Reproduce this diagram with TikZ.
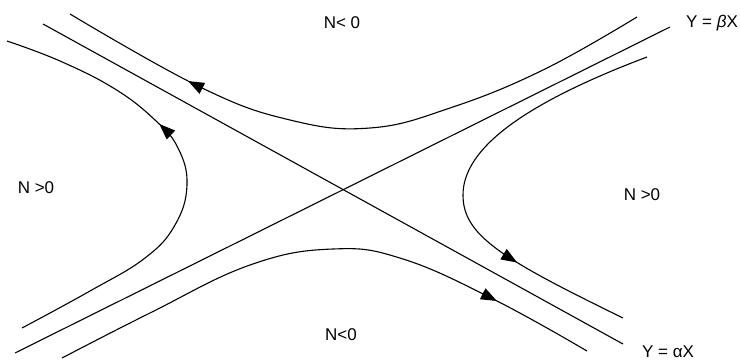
\documentclass[tikz,border=0pt]{standalone}
\usepackage{fontspec}
\setmainfont{Liberation Sans}
\usetikzlibrary{arrows.meta, decorations.markings}

\begin{document}
\begin{tikzpicture}[x=1pt, y=-1pt,
    ln/.style={line width=1.1pt},
    fl/.style={ln, postaction={decorate}, decoration={markings,
        mark=at position #1 with {\arrow{Triangle[length=16pt, width=12pt]}}}},
    lb/.style={font=\fontsize{17}{20}\selectfont, inner sep=0pt}]
\useasboundingbox (0,0) rectangle (740,362);
% asymptotes
\coordinate (a1) at (43,24);
\coordinate (a2) at (623,344);
\coordinate (b1) at (15,353);
\coordinate (b2) at (670,27);
\draw[ln] (a1) -- (a2);
\draw[ln] (b1) -- (b2);
% trajectories
\draw[fl=0.78] plot[smooth, tension=0.7] coordinates {(637,17) (543,70) (450,108)
    (370,128) (290,120) (200,87) (70,14)};
\draw[fl=0.63] plot[smooth, tension=0.7] coordinates {(22,328) (90,291) (145,258)
    (175,225) (187,185) (178,148) (155,120) (115,89) (60,61) (7,41)};
\draw[fl=0.82] plot[smooth, tension=0.7] coordinates {(62,358) (150,313) (250,265)
    (333,249) (403,259) (495,300) (587,351)};
\draw[fl=0.735] (647,57) .. controls (520,105) and (463,150) .. (463,195)
    .. controls (463,235) and (500,258) .. (623,318);
% regions
\node[lb] (top) at (342,23) {N< 0};
\node[lb] (bot) at (341,335) {N<0};
\node[lb] (lft) at (36,188) {N >0};
\node[lb] (rgt) at (642,195) {N >0};
\node[lb] (eqb) at (712,23) {Y = \textit{β}X};
\node[lb] (eqa) at (668,352) {Y = αX};
\end{tikzpicture}
\end{document}
